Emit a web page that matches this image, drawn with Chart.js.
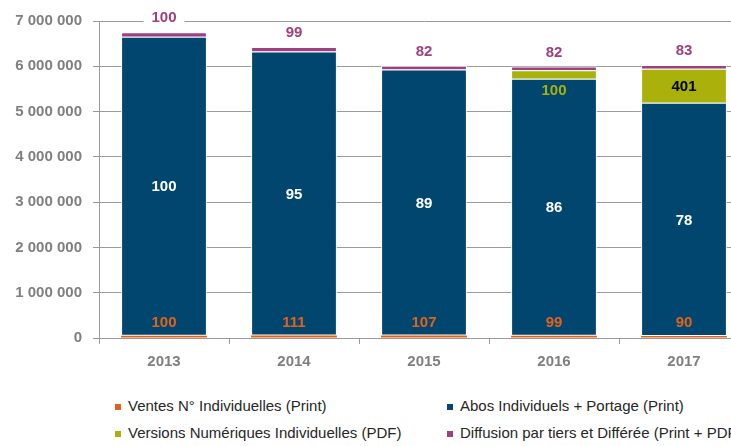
<!DOCTYPE html>
<html>
<head>
<meta charset="utf-8">
<script src="https://cdn.jsdelivr.net/npm/chart.js@4.4.0/dist/chart.umd.min.js"></script>
<style>
  html, body { margin: 0; padding: 0; background: #fff; overflow: hidden; }
  #wrap { position: relative; width: 760px; height: 446px; }
  #chartBox { position: absolute; left: 0; top: 0; width: 760px; height: 380px; }
  .legend-item {
    position: absolute; white-space: nowrap;
    font-family: "Liberation Sans", Arial, sans-serif;
    font-size: 15px; color: #262626; line-height: 18px;
  }
  .legend-item span.box { display: inline-block; width: 6px; height: 6px; margin-right: 7px; vertical-align: 1px; }
</style>
</head>
<body>
<div id="wrap">
  <div id="chartBox"><canvas id="diffusionChart"></canvas></div>
  <div id="legend"></div>
</div>
<script>
// data
const years = ["2013", "2014", "2015", "2016", "2017"];
const yTicks = [0, 1000000, 2000000, 3000000, 4000000, 5000000, 6000000, 7000000];

const ventes = [50000, 55500, 53500, 49500, 45000];
const abos = [6600000, 6270000, 5874000, 5676000, 5148000];
const numeriques = [0, 0, 0, 187000, 750000];
const diffusion = [100000, 99000, 82000, 82000, 83000];

// index labels shown on the bars (base 100)
const ventesIdx = [100, 111, 107, 99, 90];
const abosIdx = [100, 95, 89, 86, 78];
const numeriquesIdx = [null, null, null, 100, 401];
const diffusionIdx = [100, 99, 82, 82, 83];

const seriesNames = [
  "Ventes N° Individuelles (Print)",
  "Abos Individuels + Portage (Print)",
  "Versions Numériques Individuelles (PDF)",
  "Diffusion par tiers et Différée (Print + PDF)",
];
const colors = ["#E2621B", "#00466F", "#A9B10A", "#9E3F7E"];

const fontFam = '"Liberation Sans", Arial, sans-serif';
const gridGray = "#9a9a9a";

const formatMillions = (v) => String(v).replace(/\B(?=(\d{3})+(?!\d))/g, " ");

// draws the index labels like the original
const barLabels = {
  id: "barLabels",
  afterDatasetsDraw(chart) {
    const ctx = chart.ctx;
    const labelSets = [ventesIdx, abosIdx, numeriquesIdx, diffusionIdx];
    ctx.save();
    ctx.font = `bold 15px ${fontFam}`;
    ctx.textAlign = "center";
    ctx.textBaseline = "middle";
    labelSets.forEach((labels, i) => {
      const meta = chart.getDatasetMeta(i);
      meta.data.forEach((bar, j) => {
        const txt = labels[j];
        if (txt === null || txt === undefined) return;
        let y;
        let color = colors[i];
        if (i === 0) {
          y = bar.y - 14;
        } else if (i === 1) {
          y = (bar.y + bar.base) / 2;
          color = "#fff";
        } else if (i === 2) {
          if (bar.base - bar.y > 20) {
            y = (bar.y + bar.base) / 2;
            color = "#000";
          } else {
            y = bar.base + 11;
          }
        } else {
          y = bar.y - 15;
          const w = ctx.measureText(String(txt)).width;
          ctx.fillStyle = "#fff";
          ctx.fillRect(bar.x - w / 2 - 8, y - 9, w + 16, 18);
        }
        ctx.fillStyle = color;
        ctx.fillText(String(txt), bar.x, y + 1);
      });
    });
    ctx.restore();
  },
};

const chart = new Chart(document.getElementById("diffusionChart"), {
  type: "bar",
  data: {
    labels: years,
    datasets: [ventes, abos, numeriques, diffusion].map((d, i) => ({
      label: seriesNames[i],
      data: d,
      backgroundColor: colors[i],
      borderColor: "#fff",
      borderWidth: i === 0 ? 0 : 1,
      borderSkipped: i === 1 ? false : "start",
      categoryPercentage: 1,
      barPercentage: 0.66,
    })),
  },
  options: {
    responsive: true,
    maintainAspectRatio: false,
    animation: false,
    events: [],
    layout: { padding: { top: 21, right: 11, left: 0, bottom: 0 } },
    plugins: {
      legend: { display: false },
      tooltip: { enabled: false },
    },
    scales: {
      x: {
        stacked: true,
        grid: {
          offset: true,
          drawOnChartArea: false,
          color: gridGray,
          tickLength: 6,
        },
        border: { color: gridGray, width: 1 },
        ticks: {
          color: "#7f7f7f",
          padding: 9,
          font: { family: fontFam, size: 15, weight: "bold" },
        },
        afterFit: (scale) => { scale.height = 42; },
      },
      y: {
        stacked: true,
        min: 0,
        max: yTicks[yTicks.length - 1],
        afterBuildTicks: (scale) => { scale.ticks = yTicks.map((v) => ({ value: v })); },
        grid: { color: gridGray, tickLength: 6 },
        border: { color: gridGray, width: 1 },
        ticks: {
          color: "#7f7f7f",
          padding: 11,
          font: { family: fontFam, size: 15, weight: "bold" },
          callback: (v) => formatMillions(v),
        },
        afterFit: (scale) => { scale.width = 99; },
      },
    },
  },
  plugins: [barLabels],
});

// legend in two columns, like the original
const legendPos = [
  { left: 115, top: 397 },
  { left: 447, top: 397 },
  { left: 115, top: 424 },
  { left: 447, top: 424 },
];
const legend = document.getElementById("legend");
seriesNames.forEach((name, i) => {
  const item = document.createElement("div");
  item.className = "legend-item";
  item.style.left = legendPos[i].left + "px";
  item.style.top = legendPos[i].top + "px";
  item.innerHTML = `<span class="box" style="background:${colors[i]}"></span>${name}`;
  legend.appendChild(item);
});
</script>
</body>
</html>
